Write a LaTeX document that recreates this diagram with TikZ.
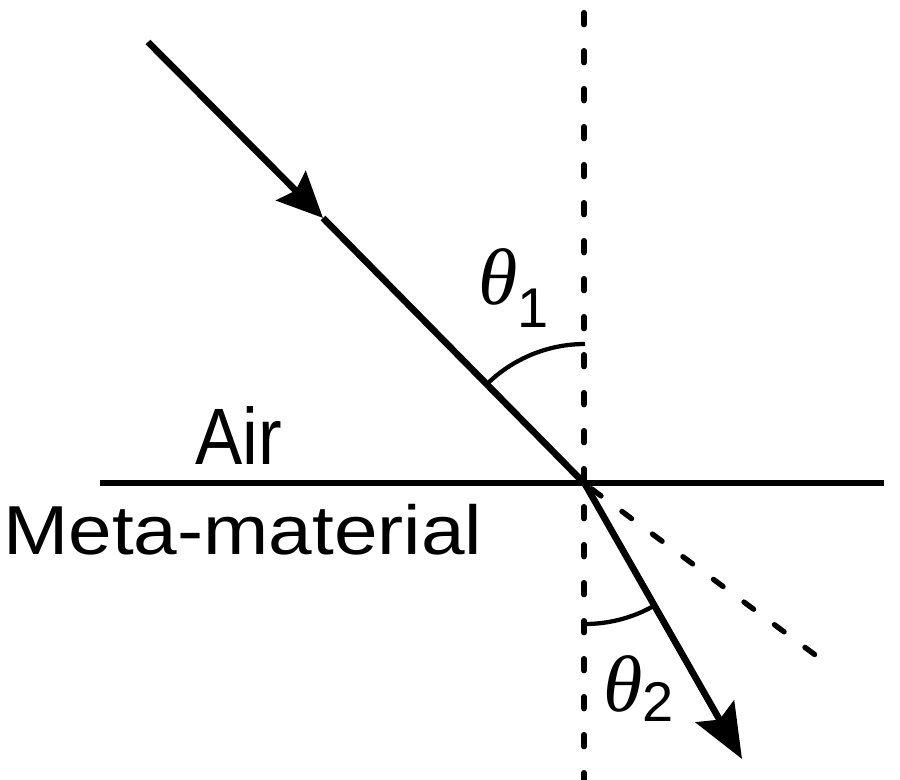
\documentclass[tikz,border=0pt]{standalone}
\usepackage{fontspec}
\usepackage{graphicx}
\setmainfont{Liberation Sans}
\newfontfamily\greekfont{Liberation Serif}
\usetikzlibrary{arrows.meta}

\begin{document}
\begin{tikzpicture}[x=0.75pt,y=0.75pt,yscale=-1,xscale=1,
  ray/.style={line width=5pt},
  guide/.style={line width=4pt,line cap=round,dash pattern=on 9pt off 19.5pt},
  anglearc/.style={line width=3.2pt},
  lbl/.style={anchor=base west,inner sep=0pt}]
\useasboundingbox (0,0) rectangle (900,780);

% points
\coordinate (O) at (585,484);
\coordinate (src) at (148,42);
\coordinate (mid) at (323,218);
\coordinate (dst) at (742,759);
\coordinate (ghost) at (822,660);
\coordinate (ntop) at (584,0);
\coordinate (nbot) at (584,780);
\coordinate (sl) at (100,483);
\coordinate (sr) at (884,483);

% normal and interface
\draw [guide,dash phase=19pt] (ntop) -- (nbot);
\draw [line width=4pt] (sl) -- (sr);

% rays
\draw [ray,-{Stealth[length=34pt,width=31pt,inset=5pt]}] (src) -- (mid);
\draw [ray] (mid) -- (O);
\draw [ray,-{Stealth[length=41pt,width=33pt,inset=7pt]}] (O) -- (dst);
\draw [guide,dash phase=-6pt] (O) -- (ghost);

% angles
\draw [anglearc] (O) ++(225.3:140) arc [start angle=225.3,end angle=270,radius=140];
\draw [anglearc] (O) ++(90:140) arc [start angle=90,end angle=60.3,radius=140];

% labels
\node [lbl] (air) at (195,465) {\fontsize{60}{66}\selectfont\scalebox{0.885}[1]{Air}};
\node [lbl] (meta) at (3,555) {\fontsize{52}{58}\selectfont\scalebox{1.13}[1]{Meta-material}};
\node [lbl] (th1) at (478,305) {\fontsize{60}{64}\selectfont\greekfont\itshape θ\fontsize{42}{46}\selectfont\normalfont\raisebox{-17pt}{1}};
\node [lbl] (th2) at (603,711) {\fontsize{60}{64}\selectfont\greekfont\itshape θ\fontsize{42}{46}\selectfont\normalfont\raisebox{-8pt}{2}};

\end{tikzpicture}
\end{document}
